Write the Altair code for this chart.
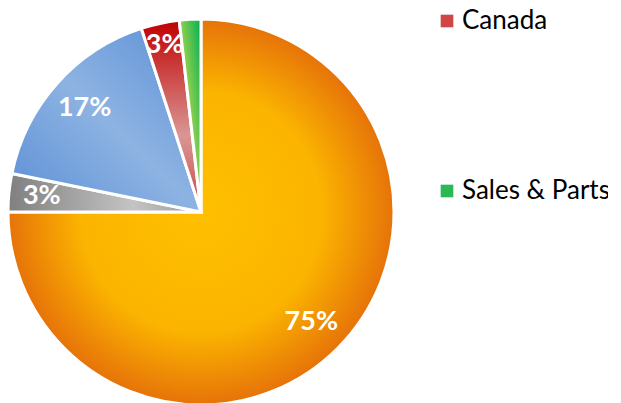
import altair as alt
import pandas as pd
import math

categories = ["Segment A", "Segment B", "Segment C", "Canada", "Sales & Parts"]
shares = [75.0, 3.2, 16.8, 3.2, 1.8]
solid_colors = ["#F39C12", "#A6A6A6", "#6F9EDC", "#D04545", "#2DB757"]
legend_items = ["Canada", "Sales & Parts"]

# gradient stops per slice
grad_stops = [
    ["#FFC000", "#FBB400", "#E46C0A"],
    ["#7F7F7F", "#C4C4C4", "#9A9A9A"],
    ["#5B8ED6", "#8DB3E2", "#5B8ED6"],
    ["#C00000", "#D99694", "#C84848"],
    ["#00B050", "#92D050", "#00B050"],
]

df = pd.DataFrame({
    "category": categories,
    "share": shares,
    "order": list(range(len(categories))),
})

tscale = alt.Scale(domain=[0, 100], range=[0, 2 * math.pi])

base = alt.Chart(df).transform_window(
    cum="sum(share)", sort=[alt.SortField("order")], frame=[None, 0]
).transform_calculate(
    start="datum.cum - datum.share", mid="datum.cum - datum.share / 2"
)

legend_layer = base.mark_arc(strokeWidth=0, outerRadius=193).encode(
    theta=alt.Theta("start:Q", scale=tscale, stack=None),
    theta2="cum:Q",
    color=alt.Color(
        "category:N",
        scale=alt.Scale(domain=categories, range=solid_colors),
        legend=alt.Legend(
            title=None,
            orient="none",
            legendX=426,
            legendY=0,
            values=legend_items,
            symbolType="square",
            symbolSize=160,
            symbolStrokeWidth=0,
            labelFont="Lato",
            labelFontSize=26,
            labelColor="#000000",
            labelOffset=2,
            rowPadding=144,
        ),
    ),
)

layers = [legend_layer]
for i, cat in enumerate(categories):
    s = grad_stops[i]
    if i == 0:
        grad = alt.RadialGradient(
            gradient="radial", x1=0.5, y1=0.5, r1=0, x2=0.5, y2=0.5, r2=0.52,
            stops=[alt.GradientStop(color=s[0], offset=0),
                   alt.GradientStop(color=s[1], offset=0.6),
                   alt.GradientStop(color=s[2], offset=1)],
        )
    elif i == 1:
        grad = alt.LinearGradient(
            gradient="linear", x1=0, y1=0.5, x2=1, y2=0.5,
            stops=[alt.GradientStop(color=s[0], offset=0),
                   alt.GradientStop(color=s[1], offset=0.65),
                   alt.GradientStop(color=s[2], offset=1)],
        )
    elif i == 3:
        grad = alt.LinearGradient(
            gradient="linear", x1=0.5, y1=0, x2=0.5, y2=1,
            stops=[alt.GradientStop(color=s[0], offset=0),
                   alt.GradientStop(color=s[1], offset=0.6),
                   alt.GradientStop(color=s[2], offset=1)],
        )
    else:
        grad = alt.LinearGradient(
            gradient="linear", x1=1, y1=0, x2=0, y2=1,
            stops=[alt.GradientStop(color=s[0], offset=0),
                   alt.GradientStop(color=s[1], offset=0.5),
                   alt.GradientStop(color=s[2], offset=1)],
        )
    layers.append(
        base.transform_filter(alt.datum.category == cat)
        .mark_arc(fill=grad, stroke="white", strokeWidth=3, outerRadius=193)
        .encode(theta=alt.Theta("start:Q", scale=tscale, stack=None), theta2="cum:Q")
    )

labels = base.transform_filter("datum.share >= 2.5").transform_calculate(
    lbl="format(datum.share, '.0f') + '%'",
    rad="datum.share < 5 ? (datum.category == 'Canada' ? 171 : 160) : 156",
).mark_text(
    font="Lato", fontWeight="bold", fontSize=27, color="white"
).encode(
    theta=alt.Theta("mid:Q", scale=tscale, stack=None),
    radius=alt.Radius("rad:Q", scale=None),
    text="lbl:N",
)
layers.append(labels)

chart = alt.layer(*layers).properties(
    width=386, height=408,
    autosize=alt.AutoSizeParams(type="none"),
    padding={"left": 0, "top": 0, "right": 214, "bottom": 0},
).configure_view(stroke=None)

chart.save("out.html", embed_options={"renderer": "svg", "actions": False})
